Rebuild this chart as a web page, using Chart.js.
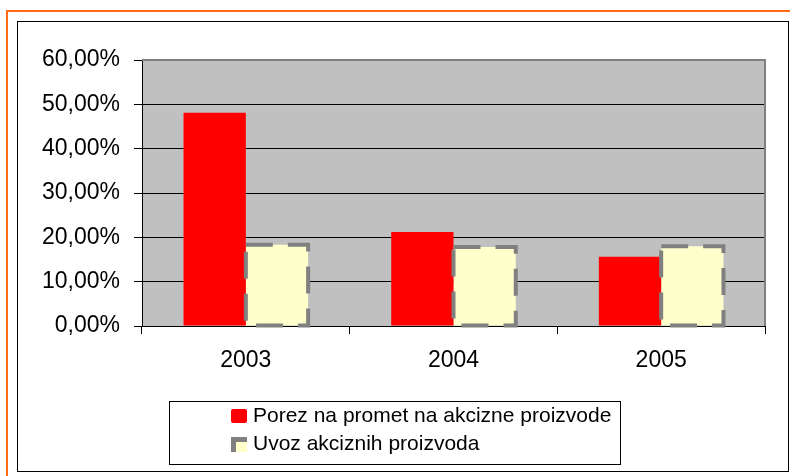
<!DOCTYPE html>
<html>
<head>
<meta charset="utf-8">
<script src="https://cdn.jsdelivr.net/npm/chart.js@4.4.0/dist/chart.umd.min.js"></script>
<style>
  html, body { margin: 0; padding: 0; background: #fff; }
  #wrap { width: 790px; height: 476px; }
</style>
</head>
<body>
<div id="wrap"><canvas id="myChart" width="790" height="476"></canvas></div>
<script>
const years = ['2003', '2004', '2005'];
const porezLabel = 'Porez na promet na akcizne proizvode';
const uvozLabel = 'Uvoz akciznih proizvoda';
const porez = [48.1, 21.2, 15.6];
const uvoz = [18.3, 17.8, 18.0];
const yTicks = [0, 10, 20, 30, 40, 50, 60];

const FONT = '"Liberation Sans", Arial, sans-serif';

// frame, plot background, dashed bar borders and the boxed legend
const excelLook = {
    id: 'excelLook',
    beforeDraw(chart) {
        const ctx = chart.ctx;
        const a = chart.chartArea;
        ctx.save();
        ctx.fillStyle = '#fff';
        ctx.fillRect(0, 0, chart.width, chart.height);
        ctx.strokeStyle = '#FF6A13';
        ctx.lineWidth = 2;
        ctx.strokeRect(7, 11, chart.width + 10, chart.height + 10);
        ctx.strokeStyle = '#000';
        ctx.lineWidth = 1;
        ctx.strokeRect(17.5, 21.5, 771, 450);
        ctx.fillStyle = '#C0C0C0';
        ctx.fillRect(a.left, a.top, a.right - a.left, a.bottom - a.top);
        ctx.restore();
    },
    afterDatasetsDraw(chart) {
        const ctx = chart.ctx;
        const a = chart.chartArea;
        ctx.save();
        // dashed outline on the second series
        const meta = chart.getDatasetMeta(1);
        ctx.strokeStyle = '#808080';
        ctx.lineWidth = 4;
        ctx.setLineDash([27, 15]);
        meta.data.forEach(function (bar) {
            const p = bar.getProps(['x', 'y', 'base', 'width'], true);
            ctx.strokeRect(p.x - p.width / 2, p.y, p.width, p.base - p.y);
        });
        ctx.setLineDash([]);
        // gray top / right plot border
        ctx.strokeStyle = '#808080';
        ctx.lineWidth = 2;
        ctx.beginPath();
        ctx.moveTo(a.left, a.top);
        ctx.lineTo(a.right, a.top);
        ctx.lineTo(a.right, a.bottom);
        ctx.stroke();
        ctx.restore();
    },
    afterDraw(chart) {
        const ctx = chart.ctx;
        ctx.save();
        ctx.strokeStyle = '#000';
        ctx.lineWidth = 1;
        ctx.strokeRect(169.5, 401.5, 451, 63);
        ctx.font = '21px ' + FONT;
        ctx.textBaseline = 'middle';
        ctx.fillStyle = '#000';
        const ds = chart.data.datasets;
        // red key
        ctx.fillStyle = ds[0].backgroundColor;
        ctx.beginPath();
        ctx.roundRect(231, 409, 16, 14, 2);
        ctx.fill();
        // dashed series key
        ctx.fillStyle = '#808080';
        ctx.fillRect(231, 437, 16, 15);
        ctx.fillStyle = ds[1].backgroundColor;
        ctx.fillRect(236, 442, 11, 10);
        ctx.fillStyle = '#000';
        ctx.fillText(ds[0].label, 253, 416);
        ctx.fillText(ds[1].label, 253, 444);
        ctx.restore();
    }
};

const ctx = document.getElementById('myChart').getContext('2d');
const myChart = new Chart(ctx, {
    type: 'bar',
    data: {
        labels: years,
        datasets: [{
            label: porezLabel,
            data: porez,
            backgroundColor: '#FF0000',
            borderWidth: 0
        }, {
            label: uvozLabel,
            data: uvoz,
            backgroundColor: '#FFFFCC',
            borderWidth: 0
        }]
    },
    options: {
        responsive: false,
        devicePixelRatio: 1,
        animation: false,
        layout: {
            padding: { left: 20, top: 60, right: 25, bottom: 100 }
        },
        datasets: {
            bar: { categoryPercentage: 0.6, barPercentage: 1.0 }
        },
        plugins: {
            legend: { display: false },
            tooltip: { enabled: false }
        },
        scales: {
            x: {
                grid: {
                    offset: true,
                    drawOnChartArea: false,
                    drawTicks: true,
                    tickLength: 8,
                    color: '#000'
                },
                border: { color: '#000', width: 1 },
                ticks: {
                    color: '#000',
                    padding: 13,
                    font: { family: FONT, size: 23 }
                },
                afterFit: function (s) { s.height = 50; }
            },
            y: {
                min: yTicks[0],
                max: yTicks[yTicks.length - 1],
                grid: {
                    color: '#000',
                    lineWidth: 1,
                    tickLength: 8
                },
                border: { color: '#000', width: 1 },
                ticks: {
                    stepSize: yTicks[1] - yTicks[0],
                    color: '#000',
                    padding: 14,
                    font: { family: FONT, size: 23 },
                    callback: function (v) {
                        return v.toFixed(2).replace('.', ',') + '%';
                    }
                },
                afterFit: function (s) { s.width = 122; }
            }
        }
    },
    plugins: [excelLook]
});
</script>
</body>
</html>
